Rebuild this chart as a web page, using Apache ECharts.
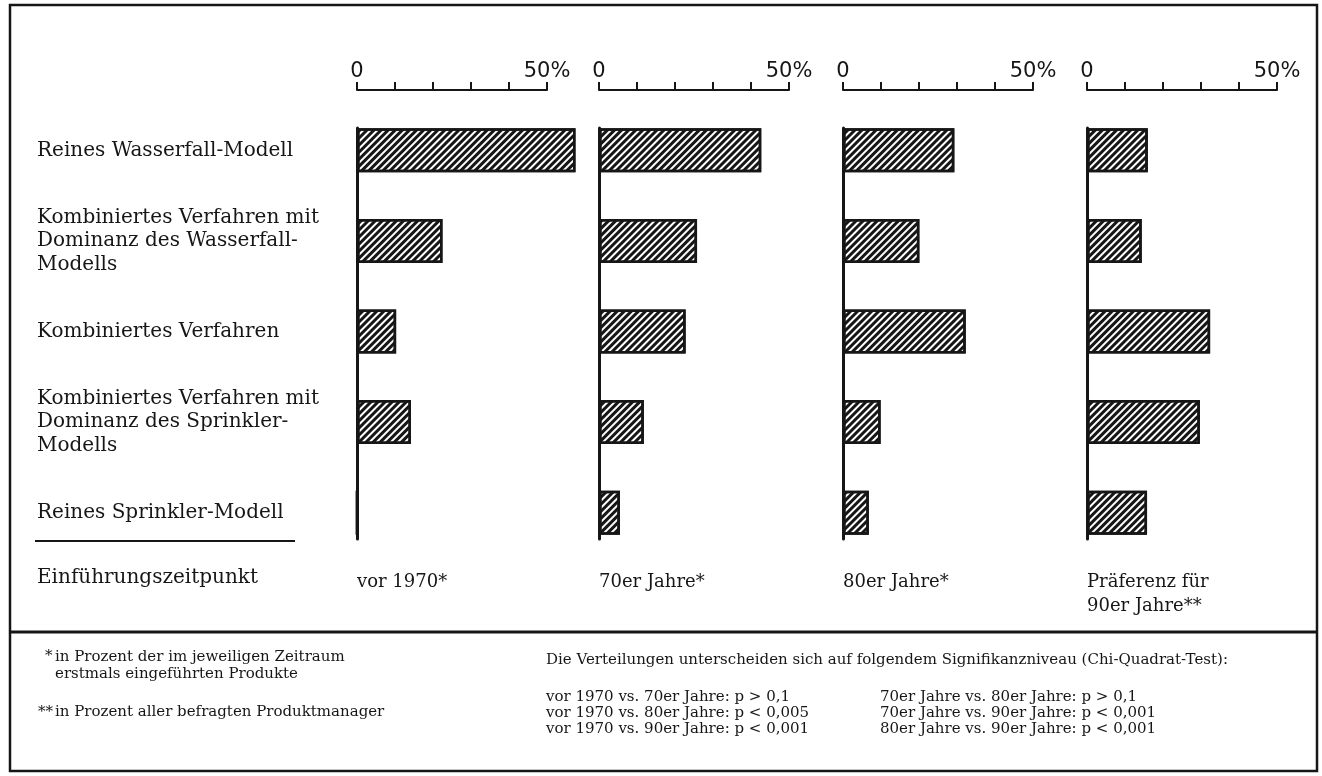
<!DOCTYPE html>
<html>
<head>
<meta charset="utf-8">
<title>Wasserfall- und Sprinkler-Modell</title>
<script src="https://cdn.jsdelivr.net/npm/echarts@6/dist/echarts.min.js"></script>
<style>
  html, body { margin: 0; padding: 0; background: #fff; }
  #chart { width: 1322px; height: 776px; }
</style>
</head>
<body>
<div id="chart"></div>
<script>
// categories (rows, top to bottom)
var categories = [
  'Reines Wasserfall-Modell',
  'Kombiniertes Verfahren mit\nDominanz des Wasserfall-\nModells',
  'Kombiniertes Verfahren',
  'Kombiniertes Verfahren mit\nDominanz des Sprinkler-\nModells',
  'Reines Sprinkler-Modell'
];
// panels (Einführungszeitpunkt)
var periods = ['vor 1970*', '70er Jahre*', '80er Jahre*', 'Präferenz für\n90er Jahre**'];
// values in percent, one array per panel
var vor1970 = [57.5, 22.5, 10.3, 14.2, 0];
var jahre70 = [42.7, 25.8, 22.8, 11.8, 5.5];
var jahre80 = [29.3, 20.1, 32.3, 9.9, 6.8];
var jahre90 = [16, 14.4, 32.4, 29.7, 15.8];
// axis ticks and their labels
var tickValues = [0, 10, 20, 30, 40, 50];
var tickLabels = { 0: '0', 50: '50%' };

var panelData = [vor1970, jahre70, jahre80, jahre90];
var panelLeft = [357, 599, 843, 1087];
var ink = '#161616';
var serif = '"DejaVu Serif", serif';

var grids = [], xAxes = [], yAxes = [], series = [], graphics = [];

panelData.forEach(function (vals, i) {
  // grid with the bars
  grids.push({ left: panelLeft[i], top: 105, width: 190, height: 453 });
  // grid only used for the vertical zero line
  grids.push({ left: panelLeft[i], top: 128, width: 190, height: 411 });

  xAxes.push({
    gridIndex: 2 * i,
    type: 'value',
    min: tickValues[0],
    max: tickValues[tickValues.length - 1],
    interval: tickValues[1] - tickValues[0],
    position: 'top',
    offset: 15,
    axisLine: { show: true, lineStyle: { color: ink, width: 2 } },
    axisTick: { show: true, length: 8, lineStyle: { color: ink, width: 2 } },
    splitLine: { show: false },
    axisLabel: {
      margin: 8,
      fontSize: 21,
      fontFamily: '"DejaVu Sans", sans-serif',
      color: ink,
      formatter: function (v) { return tickLabels[v] !== undefined ? tickLabels[v] : ''; }
    }
  });
  xAxes.push({ gridIndex: 2 * i + 1, type: 'value', min: 0, max: 50, show: false });

  yAxes.push({
    gridIndex: 2 * i,
    type: 'category',
    inverse: true,
    data: categories,
    axisLine: { show: false },
    axisTick: { show: false },
    axisLabel: {
      show: i === 0,
      align: 'left',
      margin: panelLeft[0] - 37,
      fontSize: 20,
      lineHeight: 23.5,
      fontFamily: serif,
      color: ink
    }
  });
  yAxes.push({
    gridIndex: 2 * i + 1,
    type: 'value',
    min: 0,
    max: 1,
    axisLine: { show: true, lineStyle: { color: ink, width: 3 } },
    axisTick: { show: false },
    axisLabel: { show: false },
    splitLine: { show: false }
  });

  series.push({
    type: 'bar',
    name: periods[i],
    xAxisIndex: 2 * i,
    yAxisIndex: 2 * i,
    data: vals,
    barWidth: 44,
    clip: false,
    silent: true,
    itemStyle: {
      color: '#fff',
      borderColor: ink,
      borderWidth: 2.5,
      decal: {
        symbol: 'rect',
        symbolSize: 1,
        dashArrayX: [1, 0],
        dashArrayY: [3, 1.8],
        rotation: -Math.PI / 4,
        color: ink
      }
    }
  });

  // period label under each panel
  graphics.push({
    type: 'text',
    x: panelLeft[i],
    y: 570,
    style: { text: periods[i], font: '18px ' + serif, fill: ink, lineHeight: 24, verticalAlign: 'top' }
  });
});

// frame, separators and texts
var small = '15px ' + serif;
graphics.push(
  { type: 'rect', shape: { x: 10, y: 5, width: 1307, height: 766 }, style: { fill: null, stroke: ink, lineWidth: 2.5 } },
  { type: 'line', shape: { x1: 10, y1: 632, x2: 1317, y2: 632 }, style: { stroke: ink, lineWidth: 3 } },
  { type: 'line', shape: { x1: 35, y1: 541, x2: 295, y2: 541 }, style: { stroke: ink, lineWidth: 2 } },
  { type: 'text', x: 37, y: 578, style: { text: 'Einführungszeitpunkt', font: '20px ' + serif, fill: ink, verticalAlign: 'middle' } },
  { type: 'text', x: 45, y: 649, style: { text: '*', font: small, fill: ink, verticalAlign: 'top' } },
  { type: 'text', x: 55, y: 649, style: { text: 'in Prozent der im jeweiligen Zeitraum\nerstmals eingeführten Produkte', font: small, fill: ink, lineHeight: 17, verticalAlign: 'top' } },
  { type: 'text', x: 38, y: 705, style: { text: '**', font: small, fill: ink, verticalAlign: 'top' } },
  { type: 'text', x: 55, y: 705, style: { text: 'in Prozent aller befragten Produktmanager', font: small, fill: ink, verticalAlign: 'top' } },
  { type: 'text', x: 546, y: 653, style: { text: 'Die Verteilungen unterscheiden sich auf folgendem Signifikanzniveau (Chi-Quadrat-Test):', font: small, fill: ink, verticalAlign: 'top' } },
  { type: 'text', x: 546, y: 689, style: { text: 'vor 1970 vs. 70er Jahre: p > 0,1\nvor 1970 vs. 80er Jahre: p < 0,005\nvor 1970 vs. 90er Jahre: p < 0,001', font: small, fill: ink, lineHeight: 16, verticalAlign: 'top' } },
  { type: 'text', x: 880, y: 689, style: { text: '70er Jahre vs. 80er Jahre: p > 0,1\n70er Jahre vs. 90er Jahre: p < 0,001\n80er Jahre vs. 90er Jahre: p < 0,001', font: small, fill: ink, lineHeight: 16, verticalAlign: 'top' } }
);

var chart = echarts.init(document.getElementById('chart'), null, { renderer: 'canvas' });
chart.setOption({
  animation: false,
  backgroundColor: '#fff',
  grid: grids,
  xAxis: xAxes,
  yAxis: yAxes,
  series: series,
  graphic: graphics
});
</script>
</body>
</html>
